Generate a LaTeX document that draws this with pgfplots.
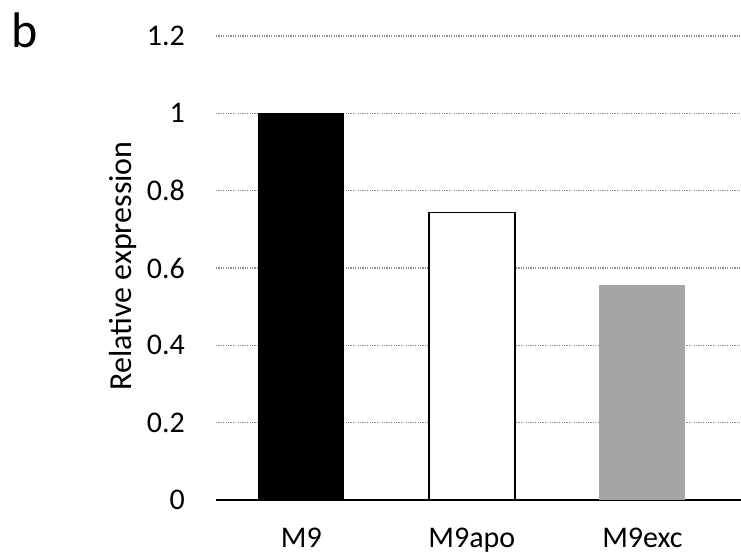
\documentclass[border=0pt]{standalone}
\usepackage{fontspec}
\setmainfont{Carlito}
\usepackage{pgfplots}
\pgfplotsset{compat=1.18}
\definecolor{gridgray}{HTML}{8C8C8C}
\definecolor{bargray}{HTML}{A5A5A5}
\begin{document}
\begin{tikzpicture}[font=\fontsize{30bp}{36bp}\selectfont]
\path[use as bounding box] (0,0) rectangle (741bp,559bp);
\begin{axis}[
  at={(216bp,59bp)}, anchor=south west,
  scale only axis, width=525bp, height=464bp,
  xmin=-0.5, xmax=2.578, ymin=0, ymax=1.2,
  ytick={0,0.2,0.4,0.6,0.8,1,1.2},
  yticklabels={0,0.2,0.4,0.6,0.8,1,1.2},
  xtick={0,1,2}, xticklabels={M9,M9apo,M9exc},
  major tick length=0pt,
  axis x line*=bottom, axis y line*=left,
  x axis line style={black, line width=1.5bp, -},
  y axis line style={draw=none},
  ymajorgrids,
  major grid style={gridgray, line width=1.2bp, dash pattern=on 1.2bp off 1.2bp},
  tick label style={font=\fontsize{30bp}{36bp}\selectfont},
  yticklabel style={anchor=east, inner sep=0pt, xshift=-31bp},
  xticklabel style={anchor=north, inner sep=0pt, yshift=-28bp},
  /pgf/number format/assume math mode=true,
  clip=false,
]
\addplot[ybar, bar width=0.504, bar shift=0pt, fill=black, draw=none] coordinates {(0,1.0)};
\addplot[ybar, bar width=0.504, bar shift=0pt, fill=white, draw=black, line width=1.5bp] coordinates {(1,0.744)};
\addplot[ybar, bar width=0.504, bar shift=0pt, fill=bargray, draw=none] coordinates {(2,0.556)};
\end{axis}
\node[rotate=90, anchor=base, inner sep=0pt, font=\fontsize{32bp}{38bp}\selectfont] at (131bp,293bp) {Relative expression};
\node[anchor=base west, inner sep=0pt, font=\fontsize{50bp}{56bp}\selectfont] at (11bp,511bp) {b};
\end{tikzpicture}
\end{document}
